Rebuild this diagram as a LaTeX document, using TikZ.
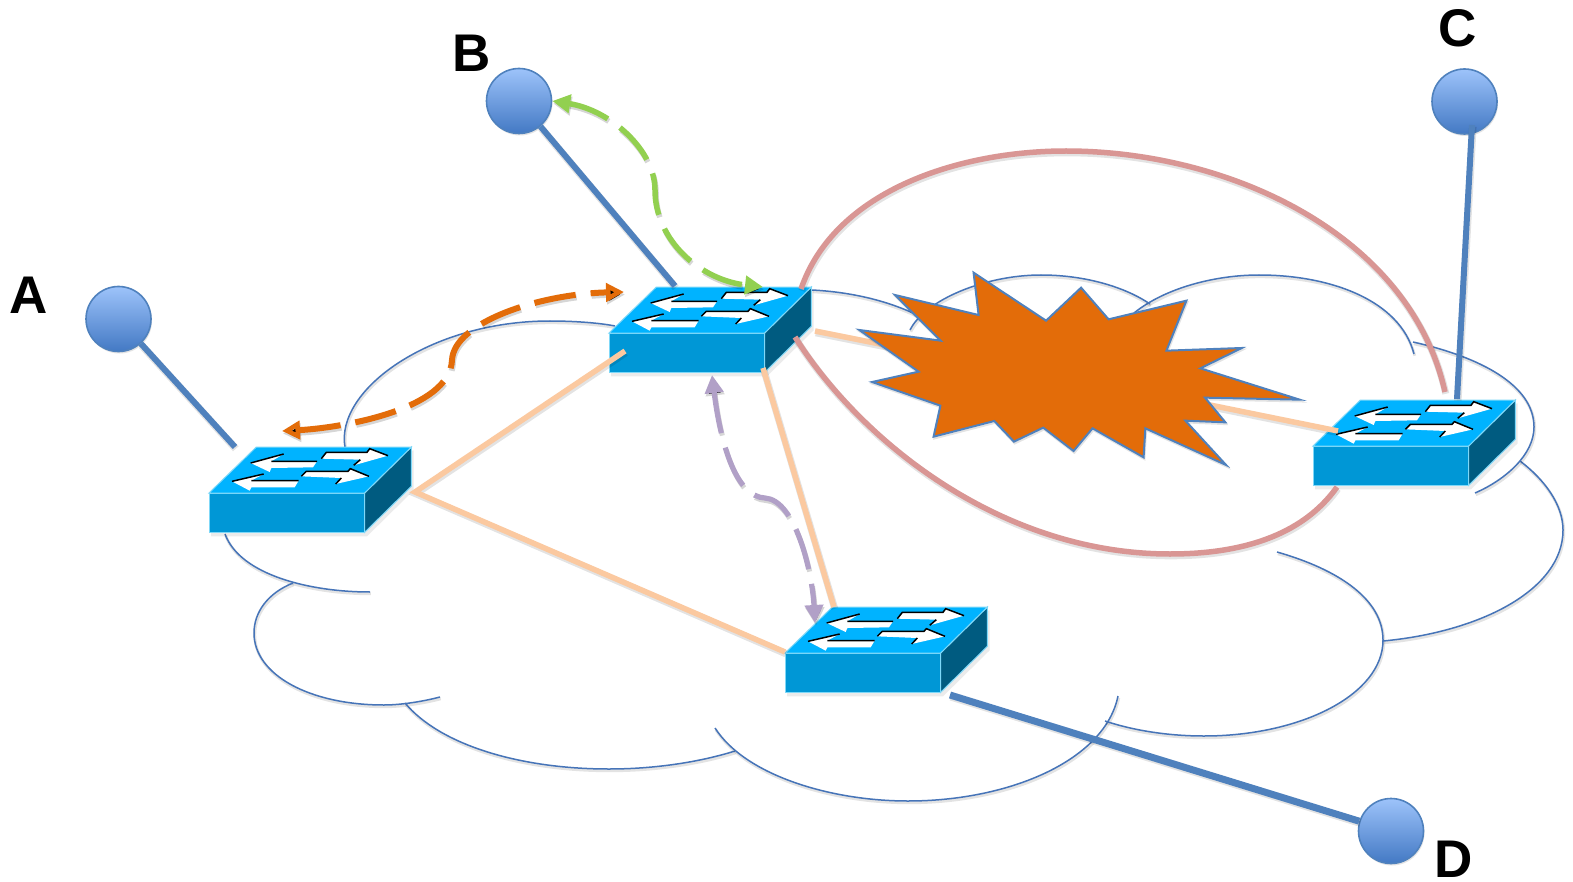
\documentclass[tikz,border=0pt]{standalone}
\usepackage{fontspec}
\setmainfont{Liberation Sans}
\usetikzlibrary{arrows.meta,shadows}
\definecolor{cloudblue}{HTML}{4674B8}
\definecolor{stemblue}{HTML}{4F81BD}
\definecolor{peach}{HTML}{FBC9A0}
\definecolor{pinkarc}{HTML}{D99694}
\definecolor{burstor}{HTML}{E36C09}
\definecolor{greenarr}{HTML}{92D050}
\definecolor{purplearr}{HTML}{B1A0C7}
\definecolor{swtop}{HTML}{00B3FF}
\definecolor{swfront}{HTML}{0097D6}
\definecolor{swside}{HTML}{005B80}
\definecolor{swedge}{HTML}{7FD8F8}
\definecolor{bluetop}{HTML}{9DC3FA}
\definecolor{bluebot}{HTML}{4379C4}
\tikzset{
  sh/.style={preaction={draw=black,draw opacity=.11,line width=#1,transform canvas={xshift=.8pt,yshift=-1.8pt}}},
  shd/.style={preaction={draw=black,draw opacity=.16,line width=#1,dash pattern=on 42pt off 15pt,transform canvas={xshift=1pt,yshift=-2.5pt}}},
  cloudarc/.style={draw=cloudblue,line width=1.5pt,sh=2.8pt},
  stemline/.style={draw=stemblue,line width=6pt,sh=7.5pt},
  peachline/.style={draw=peach,line width=5.5pt,sh=7pt},
  pinkline/.style={draw=pinkarc,line width=5.5pt,sh=7pt},
  dasharrow/.style={line width=#1,dash pattern=on 42pt off 15pt,
    {Triangle[length=18pt,width=18pt]}-{Triangle[length=18pt,width=18pt]}},
  endpt/.style={font=\fontsize{53}{53}\selectfont\bfseries,inner sep=0pt,text=black},
  ball/.style={circle,minimum size=65pt,inner sep=0pt,draw=stemblue,line width=1.6pt,
    top color=bluetop,bottom color=bluebot,drop shadow={opacity=.22,shadow xshift=1pt,shadow yshift=-2pt}},
  swarrow/.style={fill=white,draw=none},
  swblack/.style={draw=black,line width=1.5pt},
  switchbox/.pic={
    \begin{scope}[shift={(-19.33,-73.33)},x=.33333pt,y=-.33333pt]
      \fill[black,opacity=.08] (64,232) -- (672,92) -- (672,212) -- (532,350) -- (64,350) -- cycle;
      \draw[swedge,line width=1pt,fill=swfront] (58,220) -- (525,220) -- (525,338) -- (58,338) -- cycle;
      \draw[swedge,line width=1pt,fill=swside] (525,220) -- (665,82) -- (665,200) -- (525,338) -- cycle;
      \draw[swedge,line width=1pt,fill=swtop] (58,220) -- (200,82) -- (665,82) -- (525,220) -- cycle;
      \fill[swarrow] (183,130) -- (282,103) -- (245,125) -- (382,125) -- (370,143) -- (245,145) -- (240,157) -- cycle;
      \draw[swblack] (183,130) -- (282,103) (245,125) -- (382,125);
      \fill[swarrow] (127,185) -- (222,163) -- (185,183) -- (327,183) -- (315,203) -- (185,203) -- (180,213) -- cycle;
      \draw[swblack] (127,185) -- (222,163) (185,183) -- (327,183);
      \fill[swarrow] (395,117) -- (410,98) -- (532,98) -- (540,87) -- (595,108) -- (492,137) -- (512,120) -- cycle;
      \draw[swblack] (395,117) -- (410,98) -- (532,98) -- (540,87) -- (595,108) (492,137) -- (512,120);
      \fill[swarrow] (335,170) -- (350,155) -- (475,155) -- (482,147) -- (538,170) -- (438,193) -- (455,175) -- cycle;
      \draw[swblack] (335,170) -- (350,155) -- (475,155) -- (482,147) -- (538,170) (438,193) -- (455,175);
    \end{scope}
  }
}
\begin{document}
\begin{tikzpicture}[x=1pt,y=-1pt]
\useasboundingbox (0,0) rectangle (1573,882);
\fill[white] (0,0) rectangle (1573,882);

% cloud
\draw[cloudarc] (345,447) .. controls (335,390) and (430,321) .. (550,321) .. controls (575,321) and (600,323) .. (615,326);
\draw[cloudarc] (225,534) .. controls (240,575) and (310,592) .. (370,592);
\draw[cloudarc] (293,583) .. controls (268,593) and (254,612) .. (254,633) .. controls (254,675) and (310,705) .. (384,705) .. controls (402,705) and (425,701) .. (440,697);
\draw[cloudarc] (405,703) .. controls (440,745) and (520,769) .. (609,769) .. controls (655,769) and (700,762) .. (735,751);
\draw[cloudarc] (715,728) .. controls (745,775) and (830,801) .. (908,801) .. controls (1010,801) and (1105,760) .. (1118,696);
\draw[cloudarc] (1105,721) .. controls (1135,731) and (1170,736) .. (1204,736) .. controls (1300,736) and (1383,695) .. (1383,640) .. controls (1383,600) and (1340,570) .. (1277,552);
\draw[cloudarc] (1383,641) .. controls (1480,632) and (1563,590) .. (1563,530) .. controls (1563,505) and (1545,480) .. (1520,461);
\draw[cloudarc] (1413,342) .. controls (1480,357) and (1534,385) .. (1534,427) .. controls (1534,455) and (1505,480) .. (1475,493);
\draw[cloudarc] (1134,313) .. controls (1165,288) and (1215,275) .. (1259,275) .. controls (1330,275) and (1400,300) .. (1414,354);
\draw[cloudarc] (910,330) .. controls (925,300) and (985,275) .. (1041,275) .. controls (1085,275) and (1125,287) .. (1150,304);
\draw[cloudarc] (812,290) .. controls (850,292) and (885,300) .. (915,314);

% switches
\pic (swA) at (209,493) {switchbox};
\pic (swB) at (609,333) {switchbox};
\pic (swC) at (1313,446) {switchbox};
\pic (swD) at (785,653) {switchbox};

% end points of links
\coordinate (abA) at (415,492);
\coordinate (abB) at (625,351);
\coordinate (adD) at (785,652);
\coordinate (bdB) at (763,368);
\coordinate (bdD) at (834,607);
\coordinate (bxB) at (815,331);
\coordinate (bxX) at (890,346);
\coordinate (xcX) at (1205,404);
\coordinate (xcC) at (1338,431);
\coordinate (upB) at (801,289);
\coordinate (upC) at (1445,392);
\coordinate (loB) at (795,337);
\coordinate (loC) at (1337,487);
\coordinate (aStem) at (235,447);
\coordinate (bStem) at (675,286);
\coordinate (cStem) at (1457,399);
\coordinate (cTop) at (1472,125);
\coordinate (dStem) at (950,695);
\coordinate (orA) at (282,431);
\coordinate (orB) at (624,292);
\coordinate (grB) at (763,287);
\coordinate (puB) at (712,375);
\coordinate (puD) at (815,623);

% links
\draw[peachline] (abB) -- (abA) -- (adD);
\draw[peachline] (bdB) -- (bdD);
\draw[peachline] (bxB) -- (bxX);
\draw[peachline] (xcX) -- (xcC);

% burst
\begin{scope}[shift={(780,130)},x=.35714pt,y=-.33333pt]
\path[fill=burstor,draw=stemblue,line width=2pt,line join=miter,sh=2pt]
  (542,428) -- (745,572) -- (843,473) -- (920,568) -- (1138,512) -- (1082,662) -- (1293,654) -- (1177,715) -- (1455,809) -- (1190,803) -- (1247,877) -- (1135,872) -- (1249,1005) -- (1023,895) -- (1018,982) -- (875,895) -- (822,963) -- (737,893) -- (655,935) -- (600,873) -- (430,920) -- (449,827) -- (258,756) -- (388,725) -- (222,600) -- (450,632) -- (322,495) -- (556,555) -- cycle;
\end{scope}

% pink arcs
\draw[pinkline] (upB) .. controls (835,190) and (960,151) .. (1066,151) .. controls (1230,151) and (1410,235) .. (upC);
\draw[pinkline] (loB) .. controls (860,440) and (1000,554) .. (1170,554) .. controls (1260,554) and (1310,525) .. (loC);

% spheres
\node[ball] (sA) at (118.5,319) {};
\node[ball] (sB) at (519,101) {};
\node[ball] (sC) at (1464.5,101.5) {};
\node[ball] (sD) at (1391,831) {};

% stems
\draw[stemline] (sA) -- (aStem);
\draw[stemline] (sB) -- (bStem);
\draw[stemline] (cTop) -- (cStem);
\draw[stemline,line width=7pt] (dStem) -- (sD);

% dashed double arrows
\draw[dasharrow=6pt,draw=burstor,fill=burstor,fill opacity=0,shd=6pt] (orA) .. controls (340,428) and (450,410) .. (452,360) .. controls (454,322) and (540,294) .. (orB);
\draw[dasharrow=5.5pt,draw=greenarr,shd=5.5pt] (sB.east) .. controls (610,110) and (655,150) .. (655,190) .. controls (655,240) and (700,280) .. (grB);
\draw[dasharrow=5.2pt,draw=purplearr,shd=5pt] (puB) .. controls (720,440) and (735,497) .. (765,498) .. controls (795,500) and (812,570) .. (puD);

% labels
\node[endpt] (lA) at (29,295) {A};
\node[endpt] (lB) at (472,53) {B};
\node[endpt] (lC) at (1458,28) {C};
\node[endpt] (lD) at (1454,859) {D};
\end{tikzpicture}
\end{document}
